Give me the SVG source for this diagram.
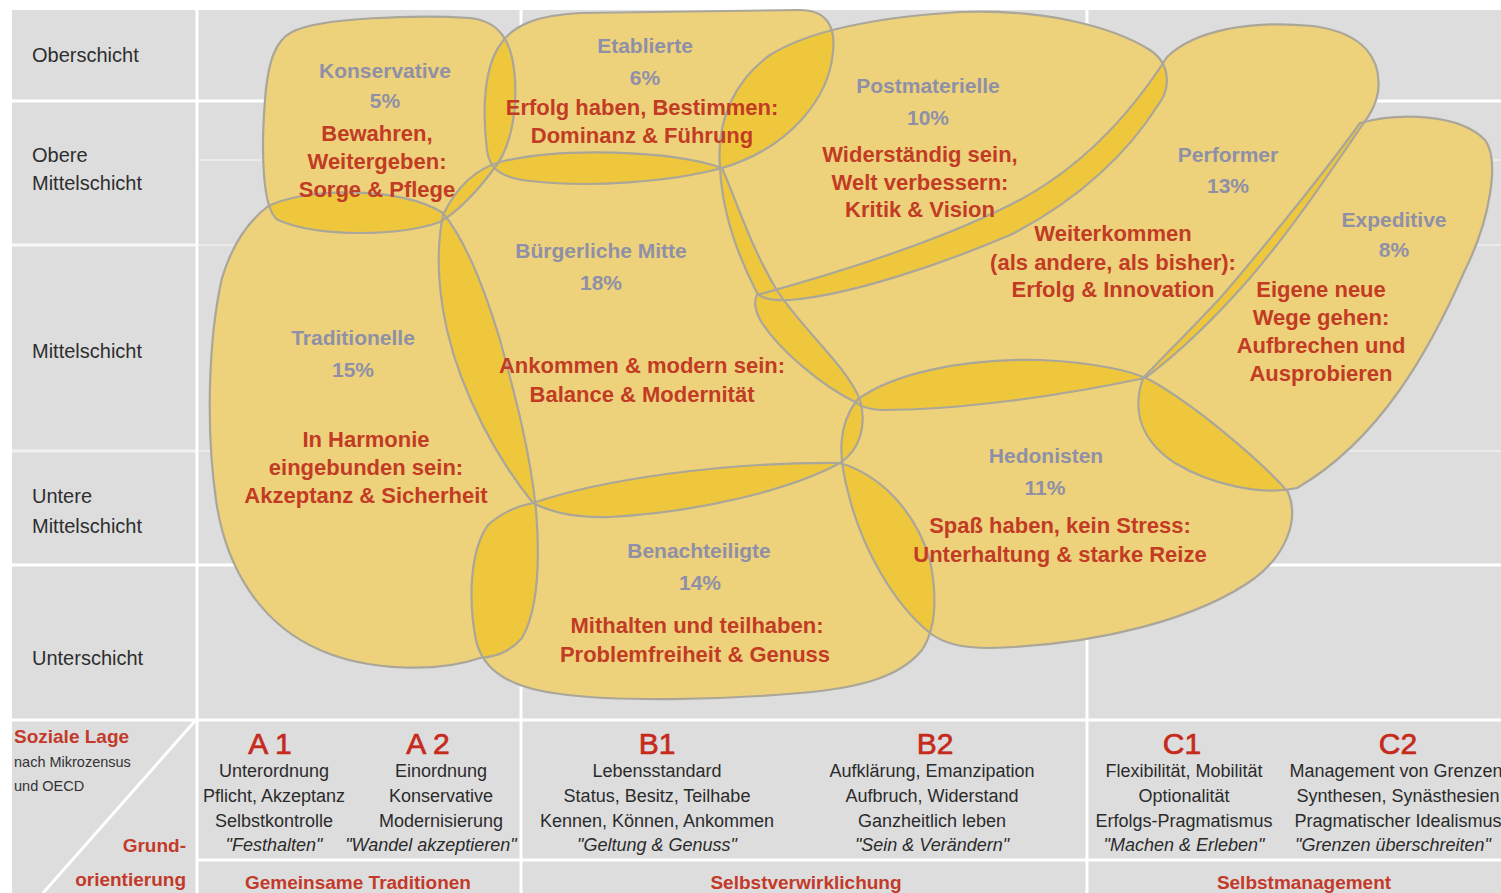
<svg xmlns="http://www.w3.org/2000/svg" xmlns:xlink="http://www.w3.org/1999/xlink" width="1501" height="893" viewBox="0 0 1501 893">
<style>
.bg{fill:#dddddd}
.wl{stroke:#ffffff;stroke-width:3;fill:none}
.fl{stroke:#ffffff;stroke-width:1.5;fill:none;opacity:0.5}
.sh{fill:#edd27b;stroke:none}
.ov{fill:#efc73c;stroke:none}
.ol{fill:none;stroke:#aaa699;stroke-width:2.2}
text{font-family:"Liberation Sans",Arial,sans-serif}
.nm{font-weight:bold;font-size:21px;fill:#8f90a8;text-anchor:middle}
.rd{font-weight:bold;font-size:22px;fill:#c23b25;text-anchor:middle}
.lb{font-size:20px;fill:#2e2e2e}
.big{font-size:30px;fill:#c62a1c;stroke:#c62a1c;stroke-width:0.7;text-anchor:middle}
.ds{font-size:18px;fill:#2b2b2b;text-anchor:middle}
.it{font-style:italic}
.gr{font-weight:bold;font-size:19px;fill:#c33a2a;text-anchor:middle}
</style>
<defs>
<path id="s-kons" d="M 292,32 C 320,17 420,15 470,18 C 500,21 513,42 515,80 C 517,115 510,150 493,170 C 478,190 460,210 440,222 C 400,236 320,238 278,220 C 262,210 261,150 265,100 C 268,60 276,40 292,32 Z"/>
<path id="s-etab" d="M 487,150 C 482,110 484,68 500,45 C 513,24 540,15 580,13 L 800,10 C 826,10 836,26 833,52 C 829,98 790,148 722,168 C 670,182 590,188 530,181 C 500,178 489,168 487,150 Z"/>
<path id="s-post" d="M 720,167 C 716,120 735,80 770,55 C 810,30 880,17 960,12 C 1040,9 1110,25 1150,50 C 1172,65 1170,90 1158,105 C 1130,150 1080,200 1010,235 C 940,265 850,295 790,300 C 772,301 762,299 757,293 C 740,260 722,215 720,167 Z"/>
<path id="s-perf" d="M 1167,57 C 1195,30 1250,20 1313,26 C 1365,33 1382,60 1378,92 C 1376,105 1370,115 1363,124 C 1335,165 1295,225 1250,278 C 1215,318 1180,352 1145,378 C 1060,396 960,410 880,410 C 868,409 860,406 857,403 C 820,385 780,350 762,323 C 754,310 754,300 757,295 C 830,275 930,245 1010,205 C 1080,170 1130,115 1167,57 Z"/>
<path id="s-exp" d="M 1360,123 C 1400,112 1460,114 1485,140 C 1500,160 1490,220 1465,270 C 1430,350 1380,440 1297,488 C 1260,496 1210,484 1175,463 C 1140,440 1132,410 1143,378 C 1170,350 1200,320 1222,296 C 1270,240 1330,165 1360,123 Z"/>
<path id="s-buerg" d="M 443,215 C 455,190 472,170 500,162 C 560,147 670,150 722,168 C 738,205 752,250 778,292 C 805,332 848,368 860,400 C 867,425 860,450 840,463 C 790,490 700,512 610,517 C 575,518 550,512 533,503 C 498,460 462,395 447,330 C 438,290 436,250 443,215 Z"/>
<path id="s-trad" d="M 267,207 C 300,188 400,185 443,213 C 465,240 485,290 500,340 C 515,395 530,450 536,510 C 540,560 538,610 522,638 C 510,652 495,657 480,658 C 440,672 370,672 320,650 C 262,625 226,570 216,500 C 206,430 208,340 222,278 C 232,245 248,222 267,207 Z"/>
<path id="s-hedo" d="M 857,400 C 890,375 960,358 1040,360 C 1090,362 1130,370 1150,380 C 1195,405 1260,460 1288,492 C 1300,520 1285,555 1255,578 C 1200,618 1100,645 990,648 C 960,648 943,643 930,633 C 895,605 862,550 848,492 C 838,455 838,425 857,400 Z"/>
<path id="s-bena" d="M 533,503 C 600,480 720,462 840,463 C 880,475 915,510 930,560 C 938,600 935,630 922,650 C 900,677 860,688 800,693 C 720,700 620,702 560,694 C 512,688 483,672 476,640 C 468,600 470,550 488,525 C 502,512 518,506 533,503 Z"/>
<clipPath id="c-etab"><use xlink:href="#s-etab"/></clipPath>
<clipPath id="c-trad"><use xlink:href="#s-trad"/></clipPath>
<clipPath id="c-buerg"><use xlink:href="#s-buerg"/></clipPath>
<clipPath id="c-post"><use xlink:href="#s-post"/></clipPath>
<clipPath id="c-perf"><use xlink:href="#s-perf"/></clipPath>
<clipPath id="c-hedo"><use xlink:href="#s-hedo"/></clipPath>
<clipPath id="c-exp"><use xlink:href="#s-exp"/></clipPath>
<clipPath id="c-bena"><use xlink:href="#s-bena"/></clipPath>
</defs>
<rect width="1501" height="893" fill="#ffffff"/>
<g id="grid">
<rect class="bg" x="12" y="10" width="1489" height="883"/>
<line class="wl" x1="197" y1="10" x2="197" y2="893"/>
<line class="wl" x1="12" y1="101" x2="1501" y2="101"/>
<line class="fl" x1="199" y1="160" x2="1501" y2="160"/>
<line class="fl" x1="199" y1="245" x2="1501" y2="245"/>
<line class="fl" x1="199" y1="451" x2="1501" y2="451"/>
<line class="wl" x1="12" y1="245" x2="197" y2="245" style="opacity:0.8"/>
<line class="wl" x1="12" y1="451" x2="197" y2="451" style="opacity:0.6"/>
<line class="wl" x1="12" y1="565" x2="1501" y2="565"/>
<line class="wl" x1="521" y1="10" x2="521" y2="893"/>
<line class="wl" x1="1087" y1="10" x2="1087" y2="893"/>
<line class="wl" x1="12" y1="720" x2="1501" y2="720"/>
<line class="wl" x1="197" y1="860" x2="1501" y2="860"/>
<line class="wl" x1="195" y1="721" x2="43" y2="893"/>
</g>
<g id="fills">
<use xlink:href="#s-trad" class="sh"/>
<use xlink:href="#s-kons" class="sh"/>
<use xlink:href="#s-etab" class="sh"/>
<use xlink:href="#s-post" class="sh"/>
<use xlink:href="#s-buerg" class="sh"/>
<use xlink:href="#s-perf" class="sh"/>
<use xlink:href="#s-exp" class="sh"/>
<use xlink:href="#s-hedo" class="sh"/>
<use xlink:href="#s-bena" class="sh"/>
</g>
<g id="overlaps">
<use xlink:href="#s-kons" class="ov" clip-path="url(#c-etab)"/>
<use xlink:href="#s-kons" class="ov" clip-path="url(#c-trad)"/>
<use xlink:href="#s-kons" class="ov" clip-path="url(#c-buerg)"/>
<use xlink:href="#s-etab" class="ov" clip-path="url(#c-buerg)"/>
<use xlink:href="#s-etab" class="ov" clip-path="url(#c-post)"/>
<use xlink:href="#s-post" class="ov" clip-path="url(#c-buerg)"/>
<use xlink:href="#s-post" class="ov" clip-path="url(#c-perf)"/>
<use xlink:href="#s-perf" class="ov" clip-path="url(#c-buerg)"/>
<use xlink:href="#s-perf" class="ov" clip-path="url(#c-hedo)"/>
<use xlink:href="#s-perf" class="ov" clip-path="url(#c-exp)"/>
<use xlink:href="#s-exp" class="ov" clip-path="url(#c-hedo)"/>
<use xlink:href="#s-buerg" class="ov" clip-path="url(#c-hedo)"/>
<use xlink:href="#s-buerg" class="ov" clip-path="url(#c-trad)"/>
<use xlink:href="#s-buerg" class="ov" clip-path="url(#c-bena)"/>
<use xlink:href="#s-trad" class="ov" clip-path="url(#c-bena)"/>
<use xlink:href="#s-bena" class="ov" clip-path="url(#c-hedo)"/>
</g>
<g id="outlines">
<use xlink:href="#s-trad" class="ol"/>
<use xlink:href="#s-kons" class="ol"/>
<use xlink:href="#s-etab" class="ol"/>
<use xlink:href="#s-post" class="ol"/>
<use xlink:href="#s-buerg" class="ol"/>
<use xlink:href="#s-perf" class="ol"/>
<use xlink:href="#s-exp" class="ol"/>
<use xlink:href="#s-hedo" class="ol"/>
<use xlink:href="#s-bena" class="ol"/>
</g>
<g id="traditionelle">
<text class="nm" x="353" y="345">Traditionelle</text>
<text class="nm" x="353" y="377">15%</text>
<text class="rd" x="366" y="447">In Harmonie</text>
<text class="rd" x="366" y="475">eingebunden sein:</text>
<text class="rd" x="366" y="503">Akzeptanz &amp; Sicherheit</text>
</g>
<g id="konservative">
<text class="nm" x="385" y="78">Konservative</text>
<text class="nm" x="385" y="108">5%</text>
<text class="rd" x="377" y="141">Bewahren,</text>
<text class="rd" x="377" y="169">Weitergeben:</text>
<text class="rd" x="377" y="197">Sorge &amp; Pflege</text>
</g>
<g id="etablierte">
<text class="nm" x="645" y="53">Etablierte</text>
<text class="nm" x="645" y="85">6%</text>
<text class="rd" x="642" y="115">Erfolg haben, Bestimmen:</text>
<text class="rd" x="642" y="143">Dominanz &amp; Führung</text>
</g>
<g id="postmaterielle">
<text class="nm" x="928" y="93">Postmaterielle</text>
<text class="nm" x="928" y="125">10%</text>
<text class="rd" x="920" y="162">Widerständig sein,</text>
<text class="rd" x="920" y="190">Welt verbessern:</text>
<text class="rd" x="920" y="217">Kritik &amp; Vision</text>
</g>
<g id="buergerliche-mitte">
<text class="nm" x="601" y="258">Bürgerliche Mitte</text>
<text class="nm" x="601" y="290">18%</text>
<text class="rd" x="642" y="373">Ankommen &amp; modern sein:</text>
<text class="rd" x="642" y="402">Balance &amp; Modernität</text>
</g>
<g id="benachteiligte">
<text class="nm" x="699" y="558">Benachteiligte</text>
<text class="nm" x="700" y="590">14%</text>
<text class="rd" x="697" y="633">Mithalten und teilhaben:</text>
<text class="rd" x="695" y="662">Problemfreiheit &amp; Genuss</text>
</g>
<g id="hedonisten">
<text class="nm" x="1046" y="463">Hedonisten</text>
<text class="nm" x="1045" y="495">11%</text>
<text class="rd" x="1060" y="533">Spaß haben, kein Stress:</text>
<text class="rd" x="1060" y="562">Unterhaltung &amp; starke Reize</text>
</g>
<g id="expeditive">
<text class="nm" x="1394" y="227">Expeditive</text>
<text class="nm" x="1394" y="257">8%</text>
<text class="rd" x="1321" y="297">Eigene neue</text>
<text class="rd" x="1321" y="325">Wege gehen:</text>
<text class="rd" x="1321" y="353">Aufbrechen und</text>
<text class="rd" x="1321" y="381">Ausprobieren</text>
</g>
<g id="performer">
<text class="nm" x="1228" y="162">Performer</text>
<text class="nm" x="1228" y="193">13%</text>
<text class="rd" x="1113" y="241">Weiterkommen</text>
<text class="rd" x="1113" y="270">(als andere, als bisher):</text>
<text class="rd" x="1113" y="297">Erfolg &amp; Innovation</text>
</g>
<g id="soziale-lage">
<text class="lb" x="32" y="62">Oberschicht</text>
<text class="lb" x="32" y="162">Obere</text>
<text class="lb" x="32" y="190">Mittelschicht</text>
<text class="lb" x="32" y="358">Mittelschicht</text>
<text class="lb" x="32" y="503">Untere</text>
<text class="lb" x="32" y="533">Mittelschicht</text>
<text class="lb" x="32" y="665">Unterschicht</text>
</g>
<g id="legend">
<text x="14" y="743" style="font-weight:bold;font-size:19px;fill:#c33a2a">Soziale Lage</text>
<text x="14" y="767" style="font-size:14.5px;fill:#333333">nach Mikrozensus</text>
<text x="14" y="791" style="font-size:14.5px;fill:#333333">und OECD</text>
<text x="186" y="852" style="font-weight:bold;font-size:19px;fill:#c33a2a;text-anchor:end">Grund-</text>
<text x="186" y="886" style="font-weight:bold;font-size:19px;fill:#c33a2a;text-anchor:end">orientierung</text>
</g>
<g id="grundorientierung">
<text class="big" x="270" y="754">A 1</text>
<text class="big" x="428" y="754">A 2</text>
<text class="big" x="657" y="754">B1</text>
<text class="big" x="935" y="754">B2</text>
<text class="big" x="1182" y="754">C1</text>
<text class="big" x="1398" y="754">C2</text>
<text class="ds" x="274" y="777">Unterordnung</text>
<text class="ds" x="274" y="802">Pflicht, Akzeptanz</text>
<text class="ds" x="274" y="827">Selbstkontrolle</text>
<text class="ds it" x="274" y="851">"Festhalten"</text>
<text class="ds" x="441" y="777">Einordnung</text>
<text class="ds" x="441" y="802">Konservative</text>
<text class="ds" x="441" y="827">Modernisierung</text>
<text class="ds it" x="431" y="851">"Wandel akzeptieren"</text>
<text class="ds" x="657" y="777">Lebensstandard</text>
<text class="ds" x="657" y="802">Status, Besitz, Teilhabe</text>
<text class="ds" x="657" y="827">Kennen, Können, Ankommen</text>
<text class="ds it" x="657" y="851">"Geltung &amp; Genuss"</text>
<text class="ds" x="932" y="777">Aufklärung, Emanzipation</text>
<text class="ds" x="932" y="802">Aufbruch, Widerstand</text>
<text class="ds" x="932" y="827">Ganzheitlich leben</text>
<text class="ds it" x="932" y="851">"Sein &amp; Verändern"</text>
<text class="ds" x="1184" y="777">Flexibilität, Mobilität</text>
<text class="ds" x="1184" y="802">Optionalität</text>
<text class="ds" x="1184" y="827">Erfolgs-Pragmatismus</text>
<text class="ds it" x="1184" y="851">"Machen &amp; Erleben"</text>
<text class="ds" x="1396" y="777">Management von Grenzen</text>
<text class="ds" x="1398" y="802">Synthesen, Synästhesien</text>
<text class="ds" x="1398" y="827">Pragmatischer Idealismus</text>
<text class="ds it" x="1393" y="851">"Grenzen überschreiten"</text>
<text class="gr" x="358" y="889">Gemeinsame Traditionen</text>
<text class="gr" x="806" y="889">Selbstverwirklichung</text>
<text class="gr" x="1304" y="889">Selbstmanagement</text>
</g>
</svg>
